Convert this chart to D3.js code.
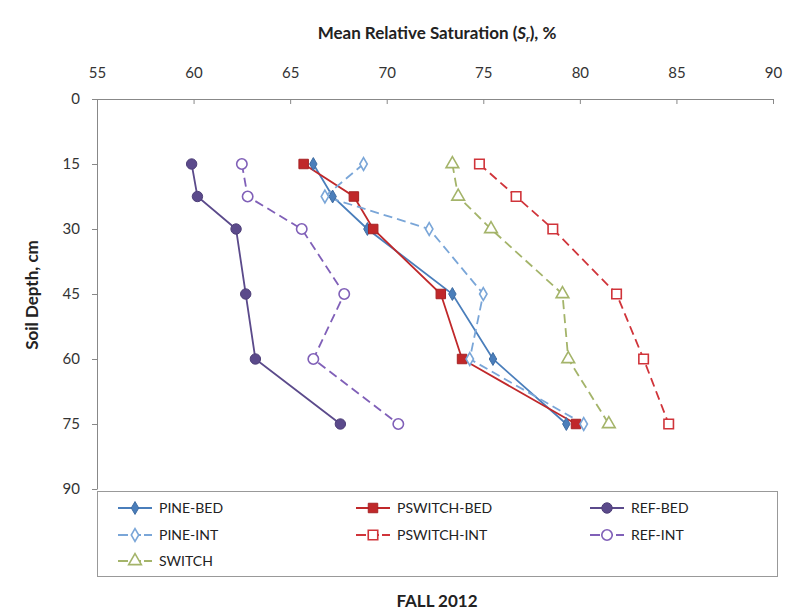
<!DOCTYPE html>
<html>
<head>
<meta charset="utf-8">
<script src="https://cdn.jsdelivr.net/npm/d3@7"></script>
<style>
  body { margin: 0; background: #fff; }
  svg { display: block; font-family: Lato, "Open Sans", sans-serif; }
</style>
</head>
<body>
<svg id="chart" width="790" height="614"></svg>
<script>
// Soil depths (cm) at which relative saturation was measured
const depths = [15, 22.5, 30, 45, 60, 75];

// Mean relative saturation (%) per treatment
const pineBed    = [66.2, 67.2, 69.0, 73.4, 75.5, 79.3];
const pineInt    = [68.8, 66.8, 72.2, 75.0, 74.3, 80.2];
const pswitchBed = [65.7, 68.3, 69.3, 72.8, 73.9, 79.8];
const pswitchInt = [74.8, 76.7, 78.6, 81.9, 83.3, 84.6];
const refBed     = [59.9, 60.2, 62.2, 62.7, 63.2, 67.6];
const refInt     = [62.5, 62.8, 65.6, 67.8, 66.2, 70.6];
const switchGrass = [73.4, 73.7, 75.4, 79.1, 79.4, 81.5];

const xTicks = [55, 60, 65, 70, 75, 80, 85, 90];
const yTicks = [0, 15, 30, 45, 60, 75, 90];

const series = [
  { name: "PINE-BED",    values: pineBed,    color: "#4a7ebb", dash: null,  shape: "diamond",  filled: true },
  { name: "PSWITCH-BED", values: pswitchBed, color: "#c0282a", dash: null,  shape: "square",   filled: true },
  { name: "REF-BED",     values: refBed,     color: "#5b4a8b", dash: null,  shape: "circle",   filled: true },
  { name: "PINE-INT",    values: pineInt,    color: "#7aa6d8", dash: "9,5", shape: "diamond",  filled: false },
  { name: "PSWITCH-INT", values: pswitchInt, color: "#d0343a", dash: "9,5", shape: "square",   filled: false },
  { name: "REF-INT",     values: refInt,     color: "#8060b8", dash: "9,5", shape: "circle",   filled: false },
  { name: "SWITCH",      values: switchGrass, color: "#a4b46a", dash: "9,5", shape: "triangle", filled: false }
];

const svg = d3.select("#chart");
const x = d3.scaleLinear().domain([55, 90]).range([97, 773]);
const y = d3.scaleLinear().domain([0, 90]).range([99, 489]);

// Axis titles
svg.append("text")
  .attr("x", 437).attr("y", 39)
  .attr("text-anchor", "middle")
  .attr("font-size", 17).attr("font-weight", 700).attr("fill", "#222")
  .html('Mean Relative Saturation  (<tspan font-style="italic">S</tspan><tspan font-style="italic" font-size="10" dy="3">r</tspan><tspan dy="-3">), %</tspan>');

svg.append("text")
  .attr("transform", "translate(38,295) rotate(-90)")
  .attr("text-anchor", "middle")
  .attr("font-size", 17).attr("font-weight", 700).attr("fill", "#222")
  .text("Soil Depth, cm");

// Top x-axis
const gx = svg.append("g").attr("transform", `translate(0,${y(0)})`)
  .call(d3.axisTop(x).tickValues(xTicks).tickSizeInner(-5).tickSizeOuter(0).tickPadding(21));
gx.select(".domain").attr("stroke", "#888");
gx.selectAll(".tick line").attr("stroke", "#888");
gx.selectAll(".tick text").attr("font-size", 15).attr("fill", "#333").attr("font-family", "Lato, sans-serif");

// Left y-axis
const gy = svg.append("g").attr("transform", `translate(${x(55)},0)`)
  .call(d3.axisLeft(y).tickValues(yTicks).tickSizeInner(5).tickSizeOuter(0).tickPadding(12));
gy.select(".domain").attr("stroke", "#888");
gy.selectAll(".tick line").attr("stroke", "#888");
gy.selectAll(".tick text").attr("font-size", 15).attr("fill", "#333").attr("font-family", "Lato, sans-serif");

// Marker drawing
const symbolFor = {
  diamond: d3.symbolDiamond,
  square: d3.symbolSquare,
  circle: d3.symbolCircle,
  triangle: d3.symbolTriangle
};
const sizeFor = { diamond: 48, square: 90, circle: 85, triangle: 70 };

function drawMarker(g, s, cx, cy) {
  g.append("path")
    .attr("d", d3.symbol().type(symbolFor[s.shape]).size(sizeFor[s.shape])())
    .attr("transform", `translate(${cx},${cy})`)
    .attr("fill", s.filled ? s.color : "#fff")
    .attr("stroke", s.filled ? d3.color(s.color).darker(0.4) : s.color)
    .attr("stroke-width", s.filled ? 1 : 1.6);
}

const line = d3.line().x(d => x(d.v)).y(d => y(d.d));
const plot = svg.append("g");

series.forEach(s => {
  const pts = depths.map((d, i) => ({ d: d, v: s.values[i] }));
  plot.append("path")
    .datum(pts)
    .attr("d", line)
    .attr("fill", "none")
    .attr("stroke", s.color)
    .attr("stroke-width", 1.8)
    .attr("stroke-dasharray", s.dash);
});
series.forEach(s => {
  const g = plot.append("g");
  depths.forEach((d, i) => drawMarker(g, s, x(s.values[i]), y(d)));
});

// Legend
svg.append("rect")
  .attr("x", 97.5).attr("y", 491.5).attr("width", 680).attr("height", 85)
  .attr("fill", "#fff").attr("stroke", "#999");

const legendCols = [118, 356, 590];
const legendRows = [508, 535, 561];
series.forEach((s, i) => {
  const col = [0, 1, 2, 0, 1, 2, 0][i];
  const row = [0, 0, 0, 1, 1, 1, 2][i];
  const lx = legendCols[col], ly = legendRows[row];
  const g = svg.append("g");
  g.append("line")
    .attr("x1", lx).attr("x2", lx + 34).attr("y1", ly).attr("y2", ly)
    .attr("stroke", s.color).attr("stroke-width", 2)
    .attr("stroke-dasharray", s.dash ? "10,3" : null);
  drawMarker(g, s, lx + 17, ly);
  g.append("text")
    .attr("x", lx + 41).attr("y", ly + 5)
    .attr("font-size", 14).attr("fill", "#222")
    .text(s.name);
});

svg.append("text")
  .attr("x", 437).attr("y", 607)
  .attr("text-anchor", "middle")
  .attr("font-size", 17).attr("font-weight", 700).attr("fill", "#222")
  .text("FALL 2012");
</script>
</body>
</html>
